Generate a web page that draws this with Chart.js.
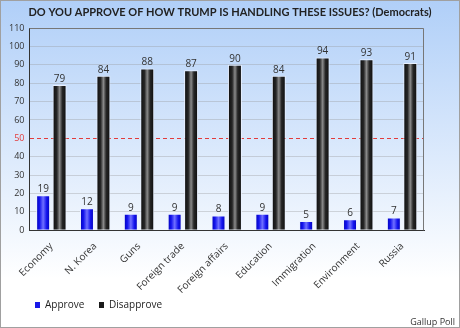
<!DOCTYPE html>
<html>
<head>
<meta charset="utf-8">
<script src="https://cdn.jsdelivr.net/npm/chart.js@4.4.0/dist/chart.umd.min.js"></script>
<style>
  html, body { margin: 0; padding: 0; background: #fff; }
</style>
</head>
<body>
<canvas id="chart" width="460" height="328"></canvas>
<script>
// Datos
const categories = ['Economy', 'N. Korea', 'Guns', 'Foreign trade', 'Foreign affairs', 'Education', 'Immigration', 'Environment', 'Russia'];
const approve = [19, 12, 9, 9, 8, 9, 5, 6, 7];
const disapprove = [79, 84, 88, 87, 90, 84, 94, 93, 91];
const yTicks = [0, 10, 20, 30, 40, 50, 60, 70, 80, 90, 100, 110];
const majority = 50;
const titleText = 'DO YOU APPROVE OF HOW TRUMP IS HANDLING THESE ISSUES? (Democrats)';

const FONT = '"Open Sans", "Noto Sans", sans-serif';
const approveShade = [[0, '#0000b4'], [0.25, '#1414ee'], [0.5, '#7070ff'], [0.75, '#1414ee'], [1, '#0000b4']];
const disapproveShade = [[0, '#0c0c0c'], [0.3, '#262626'], [0.5, '#8a8a8a'], [0.7, '#262626'], [1, '#0c0c0c']];
const shades = [approveShade, disapproveShade];
const legendColors = ['#1818e8', '#1a1a1a'];

// Fondo con degradado, título y marco exterior
const background = {
  id: 'background',
  beforeDraw(chart) {
    const ctx = chart.ctx;
    const g = ctx.createLinearGradient(0, 0, 0, chart.height);
    g.addColorStop(0, '#b0cff8');
    g.addColorStop(0.85, '#ffffff');
    g.addColorStop(1, '#ffffff');
    ctx.save();
    ctx.fillStyle = g;
    ctx.fillRect(0, 0, chart.width, chart.height);
    ctx.font = '700 11px Lato, ' + FONT;
    ctx.fillStyle = '#222';
    ctx.textAlign = 'center';
    ctx.textBaseline = 'middle';
    ctx.fillText(titleText, 230, 12.5);
    ctx.restore();
  },
  afterDraw(chart) {
    const ctx = chart.ctx;
    ctx.save();
    ctx.strokeStyle = '#a0a0a0';
    ctx.lineWidth = 1;
    ctx.strokeRect(0.5, 0.5, chart.width - 1, chart.height - 1);
    ctx.restore();
  }
};

// Degradado horizontal en cada barra
const barShading = {
  id: 'barShading',
  beforeDatasetsDraw(chart) {
    const ctx = chart.ctx;
    const a = chart.chartArea;
    ctx.save();
    ctx.strokeStyle = '#777';
    ctx.lineWidth = 1;
    ctx.beginPath();
    ctx.moveTo(a.left, a.top + 0.5);
    ctx.lineTo(a.right - 0.5, a.top + 0.5);
    ctx.lineTo(a.right - 0.5, a.bottom);
    ctx.stroke();
    ctx.restore();
    chart.data.datasets.forEach((ds, i) => {
      chart.getDatasetMeta(i).data.forEach(bar => {
        const half = bar.width / 2;
        const g = ctx.createLinearGradient(bar.x - half, 0, bar.x + half, 0);
        shades[i].forEach(([stop, col]) => g.addColorStop(stop, col));
        bar.options = Object.assign({}, bar.options, { backgroundColor: g });
      });
    });
  }
};

// Valores encima de las barras
const valueLabels = {
  id: 'valueLabels',
  afterDatasetsDraw(chart) {
    const ctx = chart.ctx;
    ctx.save();
    ctx.font = '10px ' + FONT;
    ctx.fillStyle = '#333';
    ctx.textAlign = 'center';
    ctx.textBaseline = 'bottom';
    chart.data.datasets.forEach((ds, i) => {
      chart.getDatasetMeta(i).data.forEach((bar, j) => {
        ctx.fillText(ds.data[j], bar.x, bar.y - 1);
      });
    });
    ctx.restore();
  }
};

// Leyenda y fuente abajo
const footer = {
  id: 'footer',
  afterDraw(chart) {
    const ctx = chart.ctx;
    ctx.save();
    ctx.font = '10px ' + FONT;
    ctx.textBaseline = 'middle';
    let x = 35;
    const y = 305;
    chart.data.datasets.forEach((ds, i) => {
      ctx.fillStyle = legendColors[i];
      ctx.fillRect(x, y - 3, 5, 6);
      ctx.fillStyle = '#222';
      ctx.textAlign = 'left';
      ctx.fillText(ds.label, x + 10, y);
      x += 64;
    });
    ctx.font = '9px ' + FONT;
    ctx.textAlign = 'right';
    ctx.fillStyle = '#333';
    ctx.fillText('Gallup Poll', 455, 322);
    ctx.restore();
  }
};

const data = {
  labels: categories,
  datasets: [
    {
      label: 'Approve',
      data: approve,
      backgroundColor: '#1818e8',
      borderColor: 'rgba(235,242,255,0.9)',
      borderWidth: 1
    },
    {
      label: 'Disapprove',
      data: disapprove,
      backgroundColor: '#1a1a1a',
      borderColor: 'rgba(235,242,255,0.9)',
      borderWidth: 1
    }
  ]
};

const isMajority = c => c.tick && c.tick.value === majority;

const options = {
  responsive: false,
  animation: false,
  layout: { padding: { left: 4, right: 36, top: 28, bottom: 30 } },
  datasets: {
    bar: { categoryPercentage: 0.75, barPercentage: 0.85 }
  },
  plugins: {
    legend: { display: false },
    tooltip: { enabled: false },
    title: { display: false }
  },
  scales: {
    x: {
      grid: { display: false },
      border: { color: '#333' },
      ticks: {
        color: '#333',
        font: { family: FONT, size: 10 },
        maxRotation: 45,
        minRotation: 45,
        autoSkip: false,
        padding: 2
      }
    },
    y: {
      min: 0,
      max: 110,
      afterBuildTicks: s => { s.ticks = yTicks.map(v => ({ value: v })); },
      grid: {
        color: c => isMajority(c) ? '#e23c3c' : 'rgba(150,150,150,0.35)',
        drawTicks: false
      },
      border: { color: '#333', dash: c => isMajority(c) ? [4, 3] : [] },
      ticks: {
        color: c => isMajority(c) ? '#e23c3c' : '#333',
        font: { family: FONT, size: 9 },
        padding: 5
      }
    }
  }
};

new Chart(document.getElementById('chart'), {
  type: 'bar',
  data: data,
  options: options,
  plugins: [background, barShading, valueLabels, footer]
});
</script>
</body>
</html>
